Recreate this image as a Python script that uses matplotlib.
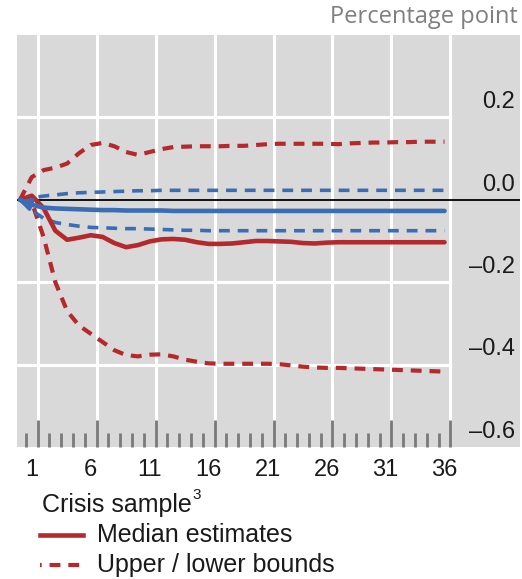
import matplotlib
matplotlib.use("Agg")
import matplotlib.pyplot as plt
from matplotlib.lines import Line2D
import numpy as np

# ---- data ----
months = list(range(0, 37))
red_median = [0.0, 0.01, -0.02, -0.075, -0.097, -0.092, -0.086, -0.09, -0.105, -0.115,
              -0.11, -0.101, -0.096, -0.095, -0.097, -0.103, -0.107, -0.107, -0.106, -0.103,
              -0.1, -0.1, -0.101, -0.102, -0.105, -0.106, -0.104, -0.103, -0.103, -0.103,
              -0.103, -0.103, -0.103, -0.103, -0.103, -0.103, -0.103]
red_upper = [0.0, 0.055, 0.072, 0.078, 0.088, 0.113, 0.133, 0.138, 0.13, 0.116,
             0.109, 0.116, 0.123, 0.128, 0.129, 0.13, 0.13, 0.13, 0.131, 0.131,
             0.133, 0.135, 0.136, 0.136, 0.136, 0.136, 0.136, 0.135, 0.137, 0.138,
             0.139, 0.139, 0.14, 0.14, 0.141, 0.141, 0.141]
red_lower = [0.0, -0.005, -0.09, -0.2, -0.27, -0.305, -0.325, -0.345, -0.365, -0.377,
             -0.38, -0.376, -0.375, -0.38, -0.388, -0.393, -0.397, -0.398, -0.398, -0.398,
             -0.398, -0.398, -0.399, -0.402, -0.405, -0.407, -0.408, -0.408, -0.409, -0.41,
             -0.411, -0.412, -0.413, -0.414, -0.415, -0.416, -0.417]
blue_median = [0.0, -0.012, -0.019, -0.021, -0.022, -0.023, -0.024, -0.025, -0.025, -0.026,
               -0.026, -0.026, -0.026, -0.027, -0.027, -0.027, -0.027, -0.027, -0.027, -0.027,
               -0.027, -0.027, -0.027, -0.027, -0.027, -0.027, -0.027, -0.027, -0.027, -0.027,
               -0.027, -0.027, -0.027, -0.027, -0.027, -0.027, -0.027]
blue_upper = [0.0, 0.005, 0.009, 0.012, 0.015, 0.017, 0.018, 0.019, 0.02, 0.021,
              0.022, 0.022, 0.023, 0.023, 0.023, 0.023, 0.023, 0.023, 0.023, 0.023,
              0.023, 0.023, 0.023, 0.023, 0.023, 0.023, 0.023, 0.023, 0.023, 0.023,
              0.023, 0.023, 0.023, 0.023, 0.023, 0.023, 0.023]
blue_lower = [0.0, -0.025, -0.045, -0.055, -0.06, -0.064, -0.067, -0.068, -0.069, -0.07,
              -0.07, -0.071, -0.072, -0.073, -0.074, -0.074, -0.075, -0.075, -0.075, -0.075,
              -0.075, -0.075, -0.075, -0.075, -0.075, -0.075, -0.075, -0.075, -0.075, -0.075,
              -0.075, -0.075, -0.075, -0.075, -0.075, -0.075, -0.075]
x_tick_labels = ["1", "6", "11", "16", "21", "26", "31", "36"]
y_ticks = [0.2, 0.0, -0.2, -0.4, -0.6]
y_tick_labels = ["0.2", "0.0", "–0.2", "–0.4", "–0.6"]

RED = "#b5292d"
BLUE = "#3b6db4"
BG = "#d9d9d9"
TICK = "#7a7a7a"
FONT = ["Liberation Sans", "DejaVu Sans"]

fig = plt.figure(figsize=(5.22, 5.79), dpi=100)
ax = fig.add_axes([17 / 522, 1 - 447 / 579, 503 / 522, 412 / 579])
ax.set_facecolor(BG)
ax.set_xlim(-0.25, 42.4)
ax.set_ylim(-0.6, 0.4)
for s in ax.spines.values():
    s.set_visible(False)

# horizontal gridlines
for yv in [0.2, -0.2, -0.4]:
    ax.plot([-0.25, 36.5], [yv, yv], color="white", lw=2.2, zorder=1)
# vertical gridlines
major_pos = [int(l) + 0.5 for l in x_tick_labels]
for xv in major_pos:
    ax.plot([xv, xv], [-0.536, 0.4], color="white", lw=2.2, zorder=1)

# ticks (inside, at bottom)
ax.set_xticks(major_pos)
ax.set_xticks([m + 0.5 for m in months], minor=True)
ax.tick_params(axis="x", which="major", direction="in", length=19.5, width=2.0,
               color=TICK, labelbottom=False)
ax.tick_params(axis="x", which="minor", direction="in", length=10, width=2.0,
               color=TICK, labelbottom=False)
ax.set_yticks([])

# zero line
ax.axhline(0, color="black", lw=1.3, zorder=2)

# series
dash_r = (2.6, 1.9)
ax.plot(months, red_upper, color=RED, lw=3.0, linestyle=(0, dash_r), zorder=3)
ax.plot(months, red_lower, color=RED, lw=3.0, linestyle=(0, dash_r), zorder=3)
ax.plot(months, blue_upper, color=BLUE, lw=2.6, linestyle=(0, (3.0, 2.2)), zorder=3)
ax.plot(months, blue_lower, color=BLUE, lw=2.6, linestyle=(0, (3.0, 2.2)), zorder=3)
ax.plot(months, red_median, color=RED, lw=3.3, zorder=4, solid_capstyle="round")
ax.plot(months, blue_median, color=BLUE, lw=3.3, zorder=5, solid_capstyle="round")
ax.annotate("", xy=(months[0] - 0.15, blue_median[0]), xytext=(months[1], blue_median[1]),
            arrowprops=dict(arrowstyle="-|>", color=BLUE, lw=2.5, mutation_scale=18,
                            shrinkA=0, shrinkB=0), zorder=6)

# x labels
xt = ax.get_xaxis_transform()
for lab in x_tick_labels:
    ax.text(int(lab), -0.056, lab, transform=xt, ha="center", va="center",
            fontsize=17, family=FONT, color="#1a1a1a")
# y labels
yt = ax.get_yaxis_transform()
for yv, lab in zip(y_ticks, y_tick_labels):
    ax.text(0.990, yv + 0.037, lab, transform=yt, ha="right", va="center",
            fontsize=17, family=FONT, color="#1a1a1a")

# unit label
fig.text(518 / 522, 1 - 17 / 579, "Percentage point", ha="right", va="center",
         fontsize=17, family=["Open Sans", "DejaVu Sans"], color="#7f7f7f")

# legend
fig.text(42 / 522, 1 - 505 / 579, "Crisis sample", ha="left", va="center",
         fontsize=18, family=FONT, color="#1a1a1a")
fig.text(192 / 522, 1 - 495 / 579, "3", ha="left", va="center",
         fontsize=11, family=FONT, color="#1a1a1a")
fig.add_artist(Line2D([40 / 522, 83 / 522], [1 - 535 / 579] * 2, color=RED, lw=3.3,
                      transform=fig.transFigure))
fig.text(97 / 522, 1 - 535 / 579, "Median estimates", ha="left", va="center",
         fontsize=18, family=FONT, color="#1a1a1a")
fig.add_artist(Line2D([40 / 522, 83 / 522], [1 - 565 / 579] * 2, color=RED, lw=3.0,
                      linestyle=(2.2, dash_r), transform=fig.transFigure))
fig.text(97 / 522, 1 - 565 / 579, "Upper / lower bounds", ha="left", va="center",
         fontsize=18, family=FONT, color="#1a1a1a")

fig.savefig("out.png", dpi=100)
